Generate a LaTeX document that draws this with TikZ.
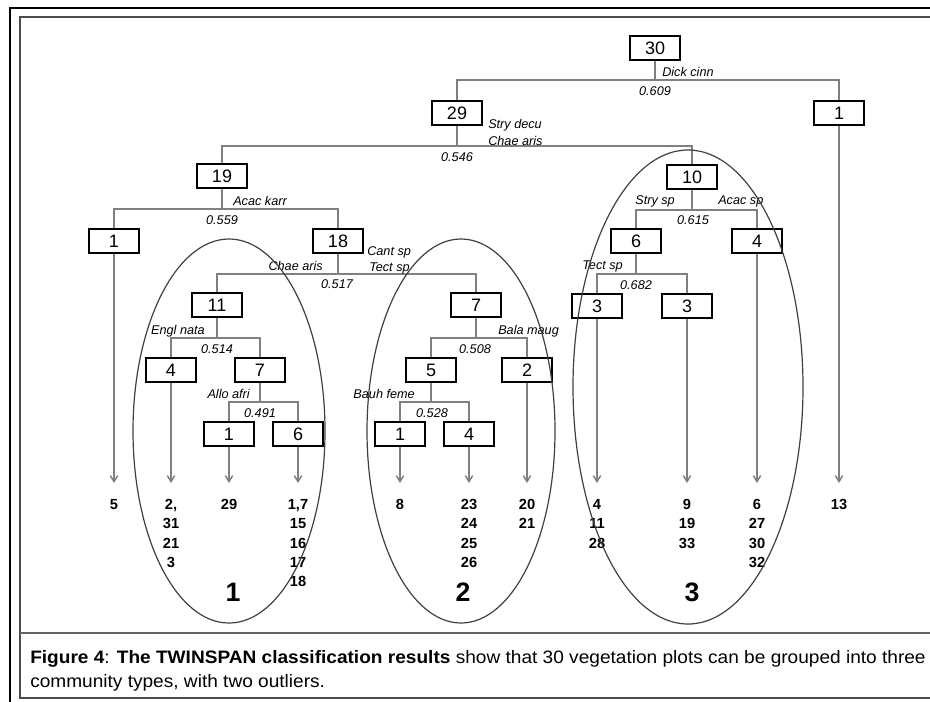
\documentclass[tikz,border=0pt]{standalone}
\usepackage{fontspec}
\setmainfont{Liberation Sans}
\newfontfamily\capfont[FakeStretch=1.06]{Liberation Sans}
\usetikzlibrary{arrows.meta}

\begin{document}
\begin{tikzpicture}[x=0.75pt,y=-0.75pt,
    plotbox/.style={draw=black, line width=1.6pt, fill=white, minimum width=37pt,
      minimum height=18.5pt, inner sep=0pt, font=\fontsize{13.5}{14}\selectfont},
    branch/.style={draw=black!50, line width=1.1pt},
    toleaf/.style={branch, -{Straight Barb[length=4.5pt,width=5.5pt]}, shorten >=12pt},
    spp/.style={font=\fontsize{9.5}{10}\selectfont\itshape, inner sep=0pt},
    eig/.style={font=\fontsize{9.5}{10}\selectfont\itshape, inner sep=0pt},
    plots/.style={font=\fontsize{11}{14.5}\selectfont\bfseries, align=center,
      anchor=north, inner sep=0pt},
    group/.style={draw=black!75, line width=0.9pt},
    grouplabel/.style={font=\fontsize{20}{20}\selectfont\bfseries, inner sep=0pt},
    caption/.style={font=\capfont\fontsize{13.5}{16}\selectfont, anchor=base west, inner sep=0pt}]

    % Frame
    \useasboundingbox (0,0) rectangle (930,701);
    \clip (0,0) rectangle (930,701);
    \draw[line width=2pt] (10,705) -- (10,8) -- (935,8);
    \draw[black!70, line width=1.2pt] (935,698) -- (20,698) -- (20,17) -- (935,17);
    \draw[black!60, line width=1.2pt] (20,633) -- (935,633);

    % Division boxes (number of plots)
    \node[plotbox] (n30) at (655,48) {30};
    \node[plotbox] (n29) at (457,113) {29};
    \node[plotbox] (n1r) at (839,113) {1};
    \node[plotbox] (n19) at (222,176) {19};
    \node[plotbox] (n10) at (692,177) {10};
    \node[plotbox] (n1l) at (114,241) {1};
    \node[plotbox] (n18) at (338,241) {18};
    \node[plotbox] (n6b) at (636,241) {6};
    \node[plotbox] (n4c) at (757,241) {4};
    \node[plotbox] (n11) at (217,305) {11};
    \node[plotbox] (n7a) at (476,305) {7};
    \node[plotbox] (n3a) at (597,306) {3};
    \node[plotbox] (n3b) at (687,306) {3};
    \node[plotbox] (n4a) at (171,370) {4};
    \node[plotbox] (n7b) at (260,370) {7};
    \node[plotbox] (n5)  at (431,370) {5};
    \node[plotbox] (n2)  at (527,370) {2};
    \node[plotbox] (n1a) at (229,434) {1};
    \node[plotbox] (n6a) at (298,434) {6};
    \node[plotbox] (n1b) at (400,434) {1};
    \node[plotbox] (n4b) at (469,434) {4};

    % Splits
    \coordinate (s30) at (n30 |- 0,80);
    \coordinate (s29) at (n29 |- 0,146);
    \coordinate (s19) at (n19 |- 0,209);
    \coordinate (s10) at (n10 |- 0,210);
    \coordinate (s18) at (n18 |- 0,274);
    \coordinate (s6b) at (n6b |- 0,274);
    \coordinate (s11) at (n11 |- 0,338);
    \coordinate (s7a) at (n7a |- 0,338);
    \coordinate (s7b) at (n7b |- 0,402);
    \coordinate (s5)  at (n5 |- 0,402);
    \foreach \p/\l/\r in {30/29/1r, 29/19/10, 19/1l/18, 10/6b/4c, 18/11/7a,
                          6b/3a/3b, 11/4a/7b, 7a/5/2, 7b/1a/6a, 5/1b/4b} {
      \draw[branch] (n\p) -- (s\p);
      \draw[branch] (n\l) |- (s\p) -| (n\r);
    }

    % Indicator species and eigenvalues
    \node[spp, anchor=west] (i30) at (662,72) {Dick cinn};
    \node[eig] (e30) at (655,91) {0.609};
    \node[spp, anchor=west] (i29a) at (488,125) {Stry decu};
    \node[spp, anchor=west] (i29b) at (488,141) {Chae aris};
    \node[eig] (e29) at (457,157) {0.546};
    \node[spp, anchor=west] (i19) at (233,201) {Acac karr};
    \node[eig] (e19) at (222,220) {0.559};
    \node[spp, anchor=west] (i18a) at (367,252) {Cant sp};
    \node[spp, anchor=west] (i18b) at (369,268) {Tect sp};
    \node[spp, anchor=east] (i18c) at (323,266) {Chae aris};
    \node[eig] (e18) at (337,284) {0.517};
    \node[spp, anchor=east] (i11) at (205,331) {Engl nata};
    \node[eig] (e11) at (217,349) {0.514};
    \node[spp, anchor=east] (i7b) at (250,394) {Allo afri};
    \node[eig] (e7b) at (260,413) {0.491};
    \node[spp, anchor=west] (i7a) at (498,331) {Bala maug};
    \node[eig] (e7a) at (475,349) {0.508};
    \node[spp, anchor=east] (i5) at (415,394) {Bauh feme};
    \node[eig] (e5) at (432,413) {0.528};
    \node[spp, anchor=east] (i10a) at (675,201) {Stry sp};
    \node[spp, anchor=west] (i10b) at (718,201) {Acac sp};
    \node[eig] (e10) at (693,220) {0.615};
    \node[spp, anchor=east] (i6b) at (623,266) {Tect sp};
    \node[eig] (e6b) at (636,285) {0.682};

    % Final groups: plot numbers
    \node[plots] (p1l) at (n1l |- 0,499) {5};
    \node[plots] (p4a) at (n4a |- 0,499) {2,\\31\\21\\3};
    \node[plots] (p1a) at (n1a |- 0,499) {29};
    \node[plots] (p6a) at (n6a |- 0,499) {1,7\\15\\16\\17\\18};
    \node[plots] (p1b) at (n1b |- 0,499) {8};
    \node[plots] (p4b) at (n4b |- 0,499) {23\\24\\25\\26};
    \node[plots] (p2)  at (n2 |- 0,499) {20\\21};
    \node[plots] (p3a) at (n3a |- 0,499) {4\\11\\28};
    \node[plots] (p3b) at (n3b |- 0,499) {9\\19\\33};
    \node[plots] (p4c) at (n4c |- 0,499) {6\\27\\30\\32};
    \node[plots] (p1r) at (n1r |- 0,499) {13};
    \foreach \n in {1l, 4a, 1a, 6a, 1b, 4b, 2, 3a, 3b, 4c, 1r}
      \draw[toleaf] (n\n) -- (p\n);

    % Community types
    \draw[group] (229,431) ellipse [x radius=96, y radius=192];
    \draw[group] (461,431) ellipse [x radius=94, y radius=192];
    \draw[group] (688,387) ellipse [x radius=115, y radius=237];
    \node[grouplabel] (g1) at (233,592) {1};
    \node[grouplabel] (g2) at (463,592) {2};
    \node[grouplabel] (g3) at (692,592) {3};

    % Caption
    \node[caption] (cap1) at (30,663) {\textbf{Figure 4}: \textbf{The TWINSPAN classification results} show that 30 vegetation plots can be grouped into three};
    \node[caption] (cap2) at (30,687) {community types, with two outliers.};

\end{tikzpicture}
\end{document}
